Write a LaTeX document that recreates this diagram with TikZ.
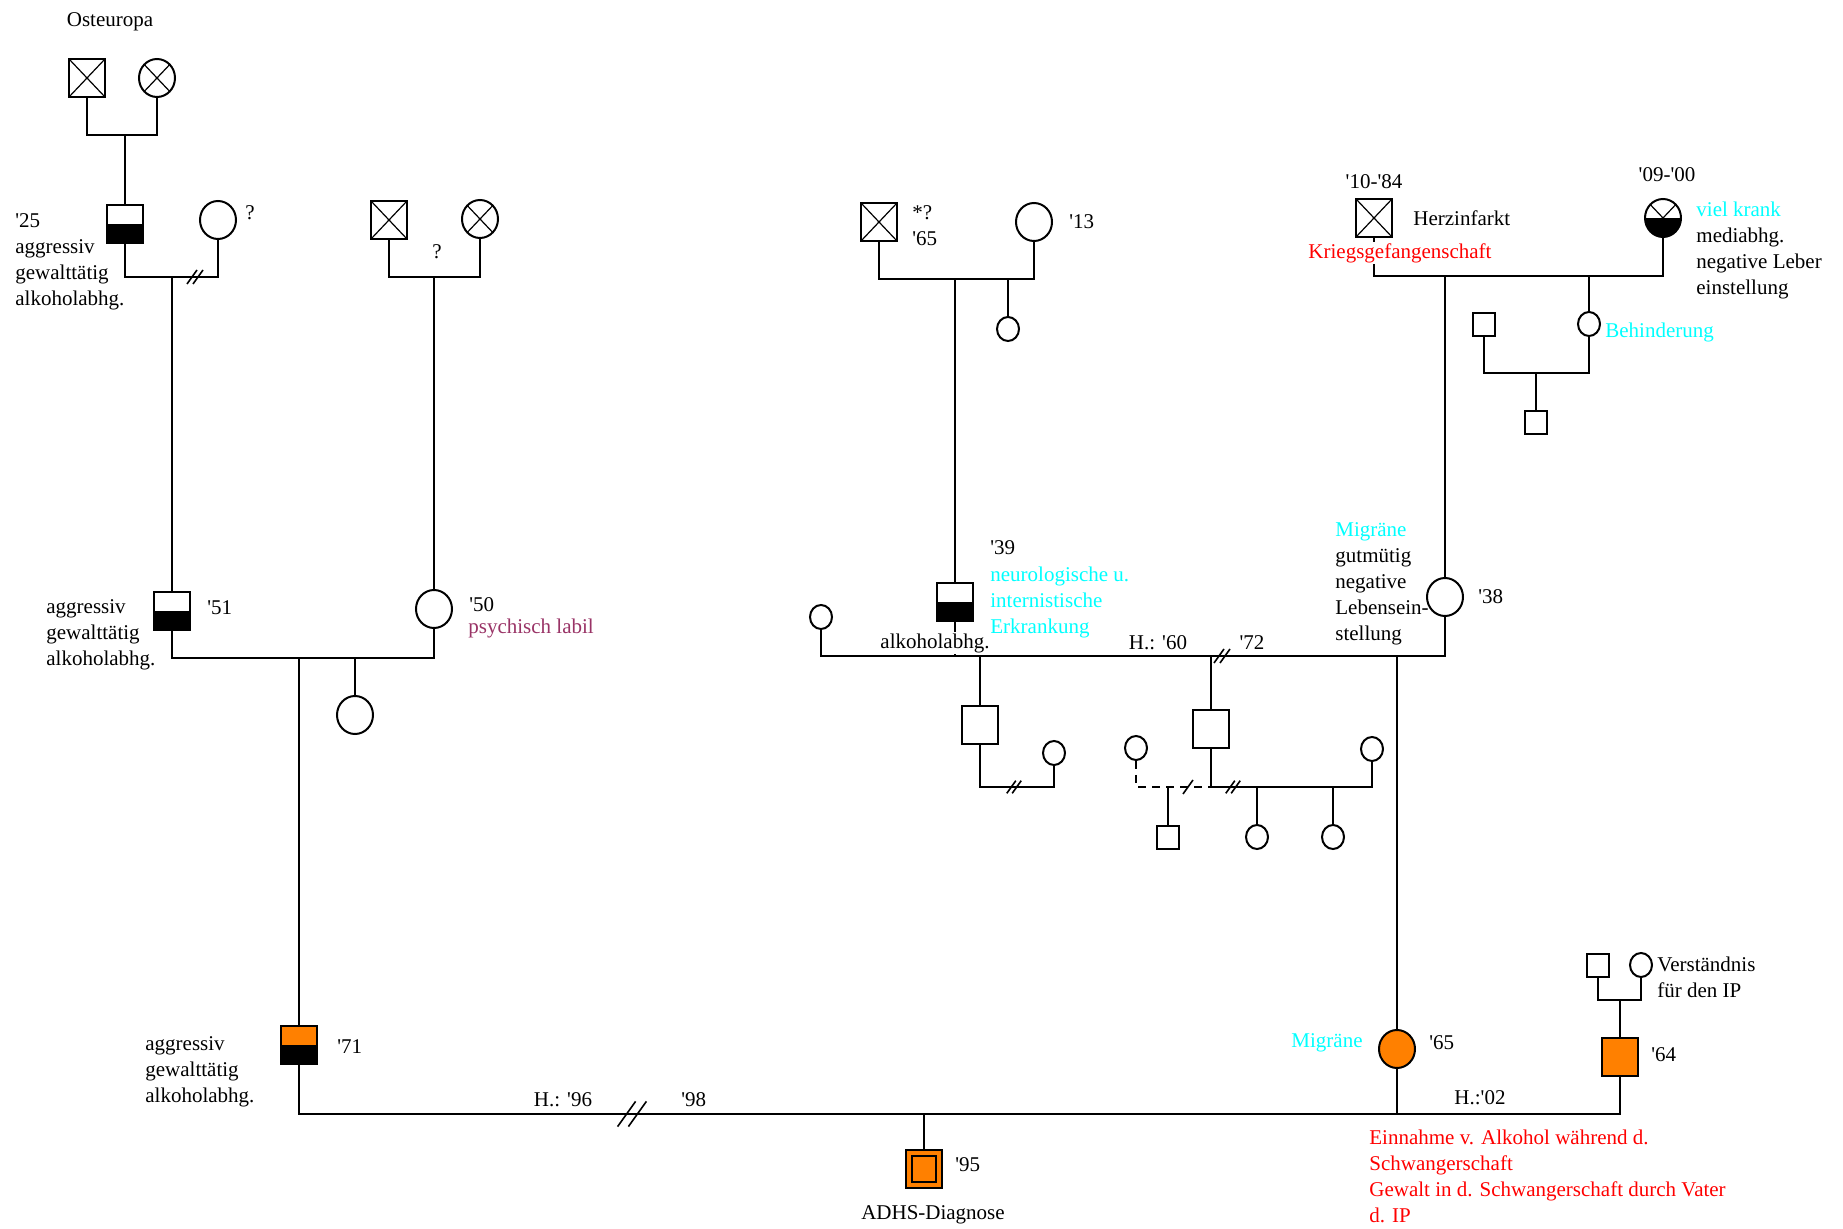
\documentclass[tikz,border=0pt]{standalone}
\usepackage{fontspec}
\setmainfont{Liberation Serif}
\usetikzlibrary{shapes.geometric}
\definecolor{cyn}{RGB}{0,255,255}
\definecolor{org}{RGB}{255,128,0}
\definecolor{plum}{RGB}{153,51,102}
\definecolor{rd}{RGB}{255,0,0}
\newcommand\ap{\XeTeXglyph\XeTeXcharglyph"27\relax}
\tikzset{
  ln/.style={line width=1pt},
  txt/.style={font=\fontsize{10.5}{13}\selectfont, inner sep=0pt, align=left},
  sqbig/.style={rectangle, draw, line width=1pt, minimum width=18pt, minimum height=19pt, inner sep=0pt},
  cibig/.style={ellipse, draw, line width=1pt, minimum width=18pt, minimum height=19pt, inner sep=0pt},
  sqsm/.style={rectangle, draw, line width=1pt, minimum width=11pt, minimum height=11.5pt, inner sep=0pt},
  cism/.style={ellipse, draw, line width=1pt, minimum width=11pt, minimum height=12pt, inner sep=0pt},
  dead/.style={path picture={\draw[line width=0.6pt] (path picture bounding box.north west) -- (path picture bounding box.south east) (path picture bounding box.north east) -- (path picture bounding box.south west);}},
  lowblack/.style={path picture={\fill[black] (path picture bounding box.west) rectangle (path picture bounding box.south east);}},
  deadlow/.style={path picture={\fill[black] (path picture bounding box.west) rectangle (path picture bounding box.south east);
     \draw[line width=0.6pt] (path picture bounding box.north west) -- (path picture bounding box.south east) (path picture bounding box.north east) -- (path picture bounding box.south west);}},
  ipsq/.style={path picture={\draw[line width=1pt] ([shift={(3pt,-3pt)}]path picture bounding box.north west) rectangle ([shift={(-3pt,3pt)}]path picture bounding box.south east);}},
  divor/.pic={\draw[line width=0.8pt] (-8,7)--(2,-7) (-2,7)--(8,-7);},
  oneslash/.pic={\draw[line width=0.8pt] (-5,7)--(5,-7);}
}
\begin{document}
\begin{tikzpicture}[x=0.5pt,y=-0.5pt]
\useasboundingbox[fill=white] (0,0) rectangle (1843,1229);

% ---------- top left ----------
\node[txt] (osteu) at (110,22) {Osteuropa};
\node[sqbig,dead] (gf1) at (87,78) {};
\node[cibig,dead] (gm1) at (157,78) {};
\coordinate (m1) at (125,135);
\draw[ln] (gf1.south) |- (m1) -| (gm1.south);
\node[sqbig,lowblack] (p25) at (125,224) {};
\draw[ln] (m1) -- (p25.north);
\node[txt,anchor=west] (t25) at (15,262) {\ap25\\aggressiv\\gewalttätig\\alkoholabhg.};
\node[cibig] (w25) at (218,220) {};
\node[txt] (q1) at (250,213) {?};
\coordinate (m2) at (172,277);
\draw[ln] (p25.south) |- (m2) -| (w25.south);
\pic at (195,277) {divor};

\node[sqbig,dead] (gf2) at (389,220) {};
\node[cibig,dead] (gm2) at (480,219) {};
\node[txt] (q2) at (437,252) {?};
\coordinate (m3) at (434,277);
\draw[ln] (gf2.south) |- (m3) -| (gm2.south);

\node[sqbig,lowblack] (p51) at (172,611) {};
\draw[ln] (m2) -- (p51.north);
\node[cibig] (w50) at (434,609) {};
\draw[ln] (m3) -- (w50.north);
\node[txt,anchor=west] (t51y) at (207,608) {\ap51};
\node[txt,anchor=west] (t51) at (46,635) {aggressiv\\gewalttätig\\alkoholabhg.};
\node[txt,anchor=west] (t50) at (469,605) {\ap50};
\node[txt,anchor=west,text=plum] (t50b) at (468,628) {psychisch labil};
\coordinate (m4) at (299,658);
\draw[ln] (p51.south) |- (m4) -| (w50.south);
\node[cibig] (sis) at (355,715) {};
\draw[ln] (sis.north) -- (sis.north |- m4);
\node[sqbig,fill=org,lowblack] (p71) at (299,1045) {};
\draw[ln] (m4) -- (p71.north);
\node[txt,anchor=west] (t71y) at (337,1047) {\ap71};
\node[txt,anchor=west] (t71) at (145,1072) {aggressiv\\gewalttätig\\alkoholabhg.};

% ---------- bottom ----------
\coordinate (m5) at (924,1114);
\node[sqbig,fill=org,ipsq] (ip) at (924,1169) {};
\node[cibig,fill=org] (w65) at (1397,1049) {};
\node[sqbig,fill=org] (p64) at (1620,1057) {};
\draw[ln] (p71.south) |- (m5) -| (p64.south);
\draw[ln] (w65.south) -- (w65.south |- m5);
\draw[ln] (m5) -- (ip.north);
\pic[scale=1.8] at (632,1114) {divor};
\node[txt] (h96) at (563,1100) {H.: \ap96};
\node[txt,anchor=west] (t98) at (681,1100) {\ap98};
\node[txt,anchor=west] (t95) at (955,1165) {\ap95};
\node[txt] (adhs) at (933,1215) {ADHS-Diagnose};
\node[txt] (h02) at (1480,1098) {H.:\ap02};
\node[txt,anchor=west,text=rd] (red1) at (1369,1176) {Einnahme v. Alkohol während d.\\Schwangerschaft\\Gewalt in d. Schwangerschaft durch Vater\\d. IP};
\node[txt,anchor=east,text=cyn] (mig2) at (1363,1043) {Migräne};
\node[txt,anchor=west] (t65) at (1429,1043) {\ap65};
\node[txt,anchor=west] (t64) at (1651,1055) {\ap64};
\node[sqsm] (gpf) at (1598,965) {};
\node[cism] (gpm) at (1641,965) {};
\coordinate (m6) at (1620,1000);
\draw[ln] (gpf.south) |- (m6) -| (gpm.south);
\draw[ln] (m6) -- (p64.north);
\node[txt,anchor=west] (verst) at (1657,977) {Verständnis\\für den IP};

% ---------- middle ----------
\node[sqbig,dead] (gf3) at (879,222) {};
\node[cibig] (gm3) at (1034,222) {};
\node[txt,anchor=west] (t65b) at (912,226) {*?\\\ap65};
\node[txt,anchor=west] (t13) at (1069,222) {\ap13};
\coordinate (m7) at (955,279);
\draw[ln] (gf3.south) |- (m7) -| (gm3.south);
\node[cism] (c13) at (1008,329) {};
\draw[ln] (c13.north) -- (c13.north |- m7);
\node[sqbig,lowblack] (p39) at (955,602) {};
\draw[ln] (m7) -- (p39.north);
\node[txt,anchor=west] (t39) at (990,548) {\ap39};
\node[txt,anchor=west,text=cyn] (neuro) at (990,602) {neurologische u.\\internistische\\Erkrankung};

\coordinate (m8) at (1397,656);
\node[cism] (lc) at (821,617) {};
\node[cibig] (w38) at (1445,597) {};
\draw[ln] (p39.south) -- (p39.south |- m8);
\node[txt,fill=white,inner sep=0.5pt] (alk39) at (935,643) {alkoholabhg.};
\draw[ln] (lc.south) |- (m8) -| (w38.south);
\node[txt] (h60) at (1158,643) {H.: \ap60};
\node[txt] (t72) at (1252,643) {\ap72};
\pic at (1222,656) {divor};
\draw[ln] (m8) -- (w65.north);

\coordinate (m9) at (980,656);
\node[sqbig] (s60a) at (980,725) {};
\draw[ln] (m9) -- (s60a.north);
\node[cism] (c60a) at (1054,753) {};
\coordinate (m10) at (1014,787);
\draw[ln] (s60a.south) |- (m10) -| (c60a.south);
\pic[scale=0.9] at (1014,787) {divor};

\coordinate (m11) at (1211,656);
\node[sqbig] (s60b) at (1211,729) {};
\draw[ln] (m11) -- (s60b.north);
\node[cism] (cd) at (1136,748) {};
\coordinate (m12) at (1168,787);
\draw[ln,dash pattern=on 4pt off 3pt] (cd.south) |- (m12) -- (m12 -| s60b.south);
\pic at (1188,787) {oneslash};
\node[sqsm] (s60c) at (1168,837) {};
\draw[ln] (m12) -- (s60c.north);
\node[cism] (c60r) at (1372,749) {};
\coordinate (m13) at (1257,787);
\draw[ln] (s60b.south) |- (m13) -| (c60r.south);
\pic[scale=0.9] at (1233,787) {divor};
\node[cism] (d1) at (1257,837) {};
\node[cism] (d2) at (1333,837) {};
\draw[ln] (m13) -- (d1.north);
\draw[ln] (d2.north) -- (d2.north |- m13);

\node[txt,anchor=west] (t38) at (1478,597) {\ap38};
\node[txt,anchor=west] (t38b) at (1335,584) {\textcolor{cyn}{Migräne}\\gutmütig\\negative\\Lebensein-\\stellung};

% ---------- top right ----------
\node[sqbig,dead] (gf4) at (1374,218) {};
\node[cibig,deadlow] (gm4) at (1663,218) {};
\node[txt] (t1084) at (1374,182) {\ap10-\ap84};
\node[txt] (t0900) at (1667,175) {\ap09-\ap00};
\node[txt,anchor=west] (herz) at (1413,218) {Herzinfarkt};
\coordinate (m14) at (1445,276);
\draw[ln] (gf4.south) |- (m14) -| (gm4.south);
\node[txt,text=rd,fill=white,inner sep=0.5pt] (krieg) at (1400,253) {Kriegsgefangenschaft};
\node[txt,anchor=west] (viel) at (1696,250) {\textcolor{cyn}{viel krank}\\mediabhg.\\negative Leber\\einstellung};
\draw[ln] (m14) -- (w38.north);
\node[cism] (cb) at (1589,324) {};
\coordinate (m15) at (1589,276);
\draw[ln] (m15) -- (cb.north);
\node[txt,anchor=west,text=cyn] (behin) at (1605,332) {Behinderung};
\node[sqsm] (sb) at (1484,325) {};
\coordinate (m16) at (1536,373);
\draw[ln] (sb.south) |- (m16) -| (cb.south);
\node[sqsm] (sc) at (1536,423) {};
\draw[ln] (m16) -- (sc.north);
\end{tikzpicture}
\end{document}
